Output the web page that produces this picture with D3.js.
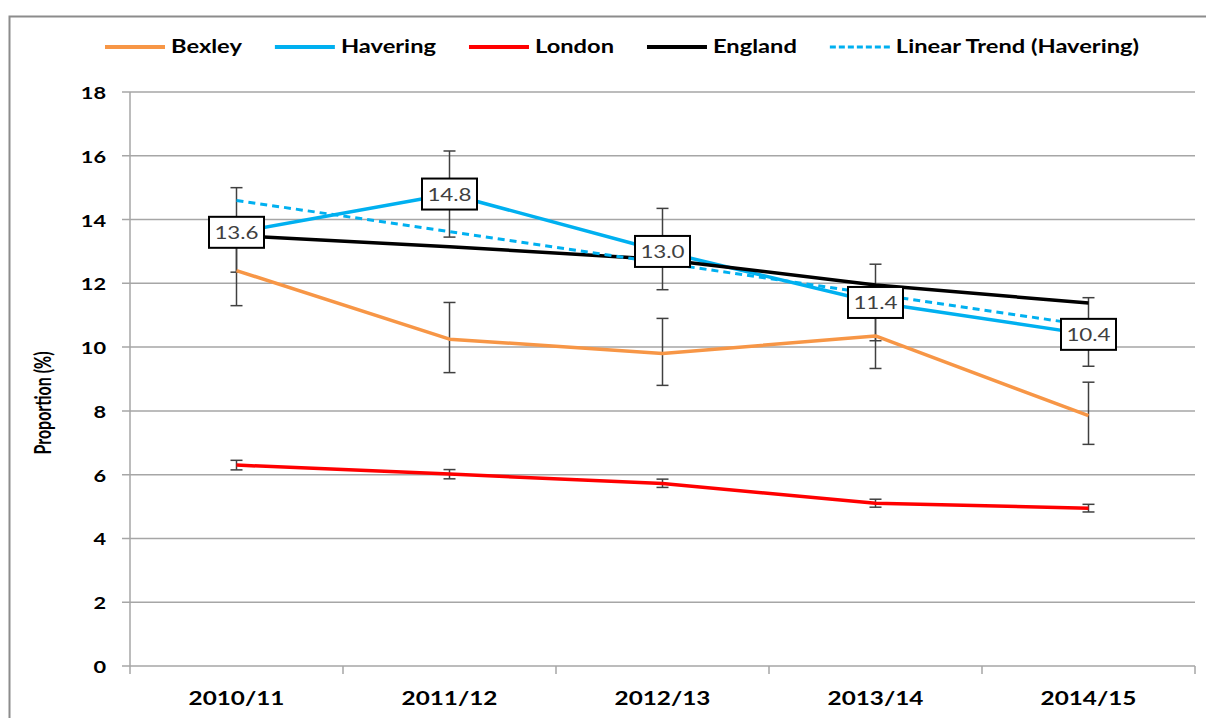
<!DOCTYPE html>
<html>
<head>
<meta charset="utf-8">
<script src="https://cdn.jsdelivr.net/npm/d3@7"></script>
<style>
    body { margin: 0; background: #fff; }
    text { font-family: Lato, "Open Sans", sans-serif; }
</style>
</head>
<body>
<div id="vis"></div>
<script>
( function() {
    var width = 1206,
        height = 718;

    // chart values
    var categories = ["2010/11", "2011/12", "2012/13", "2013/14", "2014/15"];
    var yTicks = [0, 2, 4, 6, 8, 10, 12, 14, 16, 18];

    var bexley     = [12.4, 10.25, 9.8, 10.35, 7.85];
    var bexleyLow  = [11.3, 9.2, 8.8, 9.33, 6.95];
    var bexleyHigh = [13.5, 11.4, 10.9, 11.4, 8.9];

    var havering     = [13.6, 14.8, 13.0, 11.4, 10.4];
    var haveringLow  = [12.35, 13.45, 11.8, 10.2, 9.4];
    var haveringHigh = [15.0, 16.15, 14.35, 12.6, 11.55];

    var london     = [6.3, 6.02, 5.72, 5.1, 4.95];
    var londonLow  = [6.15, 5.87, 5.6, 4.98, 4.83];
    var londonHigh = [6.45, 6.16, 5.86, 5.23, 5.07];

    var england = [13.5, 13.15, 12.75, 11.95, 11.38];
    var trend   = [14.6, 13.62, 12.64, 11.66, 10.68];

    var colors = {
        bexley: "#F79646",
        havering: "#00B0F0",
        london: "#FF0000",
        england: "#000000",
        grid: "#a6a6a6",
        frame: "#8c8c8c",
        err: "#404040"
    }

    // the original is stretched sideways, so text gets stretched too
    var SX = 1.28;

    var margin = { left: 130, right: 1195, top: 92, bottom: 666 };

    var svg = d3.select("#vis")
        .append("svg")
        .attr("width", width)
        .attr("height", height)

    var x = d3.scaleBand().domain(categories).range([margin.left, margin.right])
    var cx = function(c) { return x(c) + x.bandwidth() / 2; }
    var y = d3.scaleLinear().domain([0, 18]).range([margin.bottom, margin.top])

    function stretched(parent, px, py) {
        return parent.append("g")
            .attr("transform", "translate(" + px + "," + py + ") scale(" + SX + ",1)");
    }

    // outer frame
    svg.append("rect")
        .attr("x", 9.5).attr("y", 16.5)
        .attr("width", 1300).attr("height", 800)
        .attr("fill", "none")
        .attr("stroke", colors.frame)
        .attr("stroke-width", 2)

    // gridlines
    svg.selectAll(".grid")
        .data(yTicks)
        .enter().append("line")
        .attr("class", "grid")
        .attr("x1", margin.left - 8).attr("x2", margin.right)
        .attr("y1", function(d) { return y(d); })
        .attr("y2", function(d) { return y(d); })
        .attr("stroke", colors.grid)
        .attr("stroke-width", 1.5)

    // y axis line
    svg.append("line")
        .attr("x1", margin.left).attr("x2", margin.left)
        .attr("y1", y(18)).attr("y2", y(0))
        .attr("stroke", colors.grid)
        .attr("stroke-width", 1.5)

    // x axis ticks at band edges
    var edges = categories.map(function(c) { return x(c); }).concat([margin.right]);
    svg.selectAll(".xtick")
        .data(edges)
        .enter().append("line")
        .attr("class", "xtick")
        .attr("x1", function(d) { return d; })
        .attr("x2", function(d) { return d; })
        .attr("y1", y(0)).attr("y2", y(0) + 8)
        .attr("stroke", colors.grid)
        .attr("stroke-width", 1.5)

    // y tick labels
    yTicks.forEach(function(t) {
        stretched(svg, 106, y(t) + 7)
            .append("text")
            .attr("text-anchor", "end")
            .attr("font-size", 17)
            .attr("font-weight", 700)
            .attr("fill", "#000")
            .text(t)
    })

    // x tick labels
    categories.forEach(function(c) {
        stretched(svg, cx(c), 705)
            .append("text")
            .attr("text-anchor", "middle")
            .attr("font-size", 19)
            .attr("font-weight", 700)
            .attr("fill", "#000")
            .text(c)
    })

    // y axis title
    svg.append("g")
        .attr("transform", "translate(51,403) rotate(-90) scale(1,1.45)")
        .append("text")
        .attr("text-anchor", "middle")
        .attr("font-size", 16)
        .attr("font-weight", 700)
        .attr("fill", "#000")
        .text("Proportion (%)")

    // error bars
    function errorBars(lo, hi) {
        var g = svg.append("g")
            .attr("stroke", colors.err)
            .attr("stroke-width", 1.5)
        categories.forEach(function(c, i) {
            var px = cx(c);
            g.append("line").attr("x1", px).attr("x2", px).attr("y1", y(lo[i])).attr("y2", y(hi[i]))
            g.append("line").attr("x1", px - 6).attr("x2", px + 6).attr("y1", y(lo[i])).attr("y2", y(lo[i]))
            g.append("line").attr("x1", px - 6).attr("x2", px + 6).attr("y1", y(hi[i])).attr("y2", y(hi[i]))
        })
    }
    errorBars(bexleyLow, bexleyHigh)
    errorBars(haveringLow, haveringHigh)
    errorBars(londonLow, londonHigh)

    var line = d3.line()
        .x(function(d, i) { return cx(categories[i]); })
        .y(function(d) { return y(d); })

    var series = [
        { name: "Bexley", values: bexley, color: colors.bexley, dash: null },
        { name: "Havering", values: havering, color: colors.havering, dash: null },
        { name: "London", values: london, color: colors.london, dash: null },
        { name: "England", values: england, color: colors.england, dash: null },
        { name: "Linear Trend (Havering)", values: trend, color: colors.havering, dash: "7,5" }
    ];

    svg.selectAll(".series")
        .data(series)
        .enter().append("path")
        .attr("class", "series")
        .attr("d", function(d) { return line(d.values); })
        .attr("fill", "none")
        .attr("stroke", function(d) { return d.color; })
        .attr("stroke-width", function(d) { return d.dash ? 3 : 3.5; })
        .attr("stroke-dasharray", function(d) { return d.dash; })
        .attr("stroke-linejoin", "round")

    // Havering data labels
    havering.forEach(function(v, i) {
        var px = cx(categories[i]), py = y(v);
        svg.append("rect")
            .attr("x", px - 27.5).attr("y", py - 15.5)
            .attr("width", 55).attr("height", 31)
            .attr("fill", "#fff")
            .attr("stroke", "#000")
            .attr("stroke-width", 2)
        stretched(svg, px, py + 6.5)
            .append("text")
            .attr("text-anchor", "middle")
            .attr("font-size", 17.5)
            .attr("fill", "#404040")
            .text(d3.format(".1f")(v))
    })

    // legend
    var lx = 105, ly = 47;
    series.forEach(function(s) {
        svg.append("line")
            .attr("x1", lx).attr("x2", lx + 60)
            .attr("y1", ly).attr("y2", ly)
            .attr("stroke", s.color)
            .attr("stroke-width", s.dash ? 3 : 4)
            .attr("stroke-dasharray", s.dash ? "6,3" : null)
        var t = stretched(svg, lx + 66, ly + 6)
            .append("text")
            .attr("font-size", 18.5)
            .attr("font-weight", 700)
            .attr("fill", "#000")
            .text(s.name)
        lx += 66 + t.node().getComputedTextLength() * SX + 33;
    })

}) ();
</script>
</body>
</html>
